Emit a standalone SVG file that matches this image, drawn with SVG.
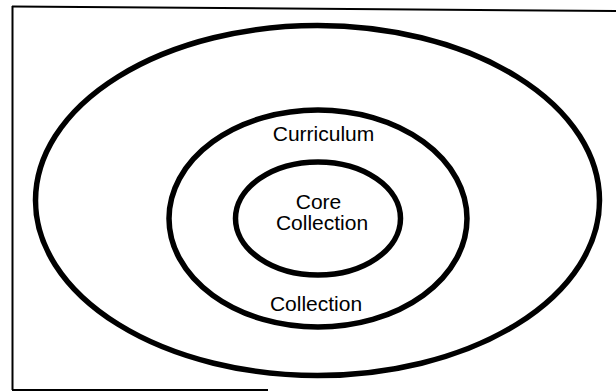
<svg xmlns="http://www.w3.org/2000/svg" width="616" height="392" viewBox="0 0 616 392">
<style>
.ring{fill:none;stroke:#000;stroke-width:5.5}
.lbl{font-family:"Liberation Sans",Arial,sans-serif;font-size:21px;fill:#000;text-anchor:middle}
.frame{stroke:#000;stroke-width:2;fill:none}
</style>
<rect width="616" height="392" fill="#fff"/>
<g id="frame">
<line class="frame" x1="12" y1="6.5" x2="616" y2="11"/>
<line class="frame" x1="12.5" y1="6" x2="12.5" y2="390"/>
<line class="frame" x1="12" y1="390" x2="268" y2="390"/>
</g>
<g id="outer">
<ellipse class="ring" cx="317.5" cy="200.5" rx="282" ry="175"/>
</g>
<g id="curriculum-collection">
<ellipse class="ring" cx="318" cy="218.5" rx="149" ry="108.5"/>
<text class="lbl" x="323.5" y="141">Curriculum</text>
<text class="lbl" x="316" y="311">Collection</text>
</g>
<g id="core-collection">
<ellipse class="ring" cx="318" cy="218.5" rx="82.5" ry="56.5"/>
<text class="lbl"><tspan x="318.5" y="209">Core</tspan><tspan x="322" y="230">Collection</tspan></text>
</g>
<g id="connectors"/>
</svg>
